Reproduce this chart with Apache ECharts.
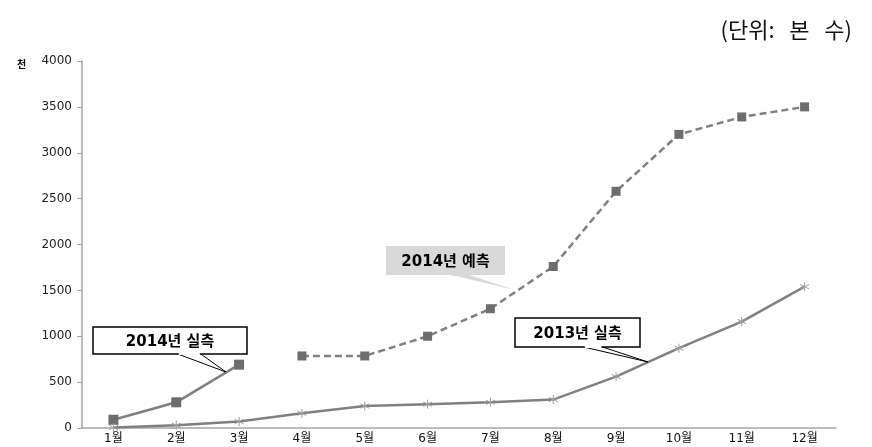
<!DOCTYPE html>
<html>
<head>
<meta charset="utf-8">
<script src="https://cdn.jsdelivr.net/npm/echarts@6/dist/echarts.min.js"></script>
<style>
  html, body { margin: 0; padding: 0; background: #fff; }
  #chart { width: 872px; height: 447px; }
</style>
</head>
<body>
<div id="chart"></div>
<script>
  // 데이터
  const months = ['1월', '2월', '3월', '4월', '5월', '6월', '7월', '8월', '9월', '10월', '11월', '12월'];
  const actual2014 = [90, 280, 690, '-', '-', '-', '-', '-', '-', '-', '-', '-'];
  const forecast2014 = ['-', '-', '-', 785, 785, 1000, 1300, 1760, 2580, 3200, 3390, 3500];
  const actual2013 = [5, 30, 70, 160, 240, 260, 280, 310, 560, 870, 1160, 1540];

  const font = '"DejaVu Sans", "Noto Sans CJK KR", sans-serif';
  const star = 'path://M0,-10L0,10M-8.7,-5L8.7,5M-8.7,5L8.7,-5';

  const chart = echarts.init(document.getElementById('chart'));

  const option = {
    animation: false,
    grid: { left: 82, right: 36, top: 61, bottom: 19, containLabel: false },
    xAxis: {
      type: 'category',
      data: months,
      boundaryGap: true,
      axisLine: { lineStyle: { color: '#a6a6a6', width: 1.5 } },
      axisTick: { alignWithLabel: false, length: 5, lineStyle: { color: '#a6a6a6' } },
      axisLabel: { color: '#111', fontSize: 12, fontFamily: font, margin: 5 }
    },
    yAxis: {
      type: 'value',
      min: 0,
      max: 4000,
      interval: 500,
      splitLine: { show: false },
      axisLine: { show: true, lineStyle: { color: '#a6a6a6', width: 1.5 } },
      axisTick: { show: true, length: 5, lineStyle: { color: '#a6a6a6' } },
      axisLabel: {
        color: '#222', fontSize: 12, fontFamily: font, margin: 10,
        formatter: v => String(v)
      }
    },
    series: [
      {
        name: '2014년 실측',
        type: 'line',
        data: actual2014,
        symbol: 'rect',
        symbolSize: 10,
        lineStyle: { color: '#808080', width: 2.5 },
        itemStyle: { color: '#6d6d6d' }
      },
      {
        name: '2014년 예측',
        type: 'line',
        data: forecast2014,
        symbol: 'rect',
        symbolSize: 9,
        lineStyle: { color: '#808080', width: 2.5, type: [7, 4] },
        itemStyle: { color: '#6d6d6d' }
      },
      {
        name: '2013년 실측',
        type: 'line',
        data: actual2013,
        symbol: star,
        symbolSize: 9,
        lineStyle: { color: '#808080', width: 2.5 },
        itemStyle: { color: 'none', borderColor: '#a0a0a0', borderWidth: 1 }
      }
    ]
  };

  chart.setOption(option);

  // 말풍선 (callout)
  function callout(text, box, tip, fill, stroke) {
    const [x, y, w, h] = box;
    const baseX1 = x + w * 0.55, baseX2 = x + w * 0.7;
    return [
      {
        type: 'polygon',
        shape: { points: [[baseX1, y + h], [tip[0], tip[1]], [baseX2, y + h]] },
        style: { fill: fill, stroke: stroke, lineWidth: 1 },
        z: 10
      },
      {
        type: 'rect',
        shape: { x: x, y: y, width: w, height: h },
        style: { fill: fill, stroke: stroke, lineWidth: stroke === 'none' ? 0 : 1.5 },
        z: 11
      },
      {
        type: 'rect',
        shape: { x: baseX1 + 1, y: y + h - 2, width: baseX2 - baseX1 - 2, height: 3 },
        style: { fill: fill },
        z: 12
      },
      {
        type: 'text',
        x: x + w / 2,
        y: y + h / 2 + 2,
        style: {
          text: text, fill: '#000', font: 'bold 15px ' + font,
          align: 'center', verticalAlign: 'middle'
        },
        z: 13
      }
    ];
  }

  const graphics = [
    {
      type: 'text', left: 17, top: 59,
      style: { text: '천', fill: '#111', font: 'bold 10px "Noto Sans CJK KR"' }
    },
    {
      type: 'text', right: 20, top: 19,
      style: { text: '(단위:   본   수)', fill: '#111', font: '22px "Noto Sans CJK KR"' }
    }
  ]
    .concat(callout('2014년 실측', [93, 327, 154, 27], [226, 372], '#fff', '#000'))
    .concat(callout('2014년 예측', [386, 246, 119, 29], [515, 290], '#d9d9d9', 'none'))
    .concat(callout('2013년 실측', [515, 318, 125, 29], [648, 362], '#fff', '#000'));

  chart.setOption({ graphic: graphics });
</script>
</body>
</html>
